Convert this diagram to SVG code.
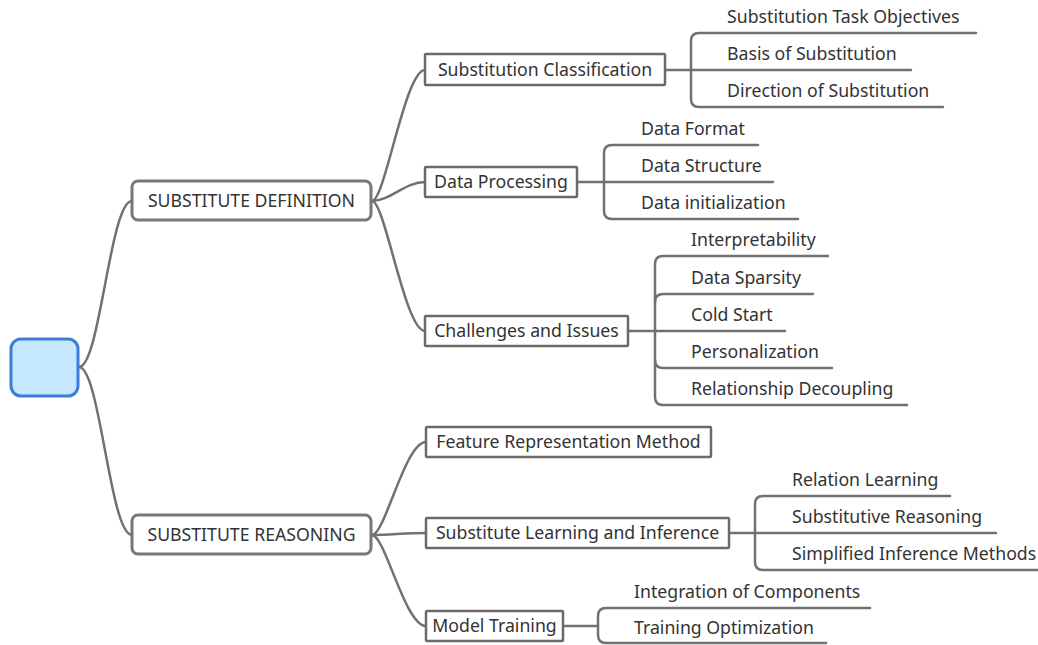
<svg xmlns="http://www.w3.org/2000/svg" width="1038" height="645" viewBox="0 0 1038 645">
<style>
.t{font-family:"Noto Sans","Liberation Sans",sans-serif;font-size:17.7px;fill:#333}
.c{text-anchor:middle}
.ln{fill:none;stroke:#717171;stroke-width:2.5;stroke-linecap:round}
.b1{fill:#fff;stroke:#777;stroke-width:3}
.b2{fill:#fff;stroke:#6a6a6a;stroke-width:2.5}
</style>
<rect width="1038" height="645" fill="#fff"/>
<g id="connectors">
<path class="ln" d="M79,367 C100,367 110,201 132,201"/>
<path class="ln" d="M79,367 C100,367 110,535 132,535"/>
<path class="ln" d="M372,201 C385,201 405,70 425,70"/>
<path class="ln" d="M372,201 C390,201 405,182 425,182"/>
<path class="ln" d="M372,201 C385,201 405,331 425,331"/>
<path class="ln" d="M372,535 C385,535 405,442 426,442"/>
<path class="ln" d="M372,535 C390,535 405,533 426,533"/>
<path class="ln" d="M372,535 C385,535 405,626 426,626"/>
<path class="ln" d="M665,70 H911"/>
<path class="ln" d="M976,33 H699 Q691,33 691,41 V99 Q691,107 699,107 H943"/>
<path class="ln" d="M577,182 H773"/>
<path class="ln" d="M758,145 H612 Q604,145 604,153 V211 Q604,219 612,219 H798"/>
<path class="ln" d="M628,331 H785"/>
<path class="ln" d="M828,256 H663 Q655,256 655,264 V397 Q655,405 663,405 H907"/>
<path class="ln" d="M655,302 Q655,294 663,294 H813"/>
<path class="ln" d="M655,360 Q655,368 663,368 H832"/>
<path class="ln" d="M729,533 H996"/>
<path class="ln" d="M950,496 H763 Q755,496 755,504 V562 Q755,570 763,570 H1038"/>
<path class="ln" d="M563,626 H598"/>
<path class="ln" d="M870,608 H606 Q598,608 598,616 V635 Q598,643 606,643 H826"/>
</g>
<g id="root"><rect x="11" y="339" width="67" height="57" rx="10" fill="#c5e8ff" stroke="#3a7fd5" stroke-width="3"/></g>
<g id="n-def"><rect class="b1" x="132" y="181" width="239" height="39" rx="6"/><text class="t c" x="251.5" y="207">SUBSTITUTE DEFINITION</text></g>
<g id="n-rea"><rect class="b1" x="132" y="515" width="239" height="39" rx="6"/><text class="t c" x="251.5" y="541">SUBSTITUTE REASONING</text></g>
<g id="n-sc"><rect class="b2" x="425" y="54" width="240" height="31" rx="1"/><text class="t c" x="545" y="76">Substitution Classification</text></g>
<g id="n-dp"><rect class="b2" x="425" y="167" width="152" height="30" rx="1"/><text class="t c" x="501" y="188">Data Processing</text></g>
<g id="n-ci"><rect class="b2" x="425" y="316" width="203" height="30" rx="1"/><text class="t c" x="526.5" y="337">Challenges and Issues</text></g>
<g id="n-frm"><rect class="b2" x="426" y="427" width="285" height="30" rx="1"/><text class="t c" x="568.5" y="448">Feature Representation Method</text></g>
<g id="n-sli"><rect class="b2" x="426" y="518" width="303" height="30" rx="1"/><text class="t c" x="577.5" y="539">Substitute Learning and Inference</text></g>
<g id="n-mt"><rect class="b2" x="426" y="611" width="137" height="30" rx="1"/><text class="t c" x="494.5" y="632">Model Training</text></g>
<g id="l3-sc">
<text class="t" x="727" y="23">Substitution Task Objectives</text>
<text class="t" x="727" y="60">Basis of Substitution</text>
<text class="t" x="727" y="97">Direction of Substitution</text>
</g>
<g id="l3-dp">
<text class="t" x="641" y="135">Data Format</text>
<text class="t" x="641" y="172">Data Structure</text>
<text class="t" x="641" y="209">Data initialization</text>
</g>
<g id="l3-ci">
<text class="t" x="691" y="246">Interpretability</text>
<text class="t" x="691" y="284">Data Sparsity</text>
<text class="t" x="691" y="321">Cold Start</text>
<text class="t" x="691" y="358">Personalization</text>
<text class="t" x="691" y="395">Relationship Decoupling</text>
</g>
<g id="l3-sli">
<text class="t" x="792" y="486">Relation Learning</text>
<text class="t" x="792" y="523">Substitutive Reasoning</text>
<text class="t" x="792" y="560">Simplified Inference Methods</text>
</g>
<g id="l3-mt">
<text class="t" x="634" y="598">Integration of Components</text>
<text class="t" x="634" y="634">Training Optimization</text>
</g>
</svg>
